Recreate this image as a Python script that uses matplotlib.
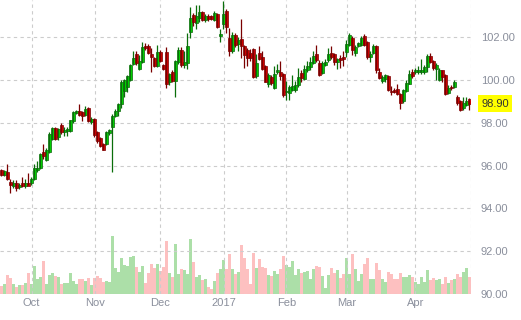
import numpy as np
import matplotlib
matplotlib.use("Agg")
import matplotlib.pyplot as plt

# daily bars, index 0 = first bar on the left
opens = [95.80, 95.55, 95.72, 95.25, 95.03, 95.19, 95.00, 95.19, 95.03, 95.20,
         95.17, 95.37, 95.80, 95.90, 96.65, 96.26, 96.65, 97.24, 97.77, 97.34,
         97.88, 97.55, 97.60, 97.60, 98.07, 98.46, 98.53, 98.50, 98.35, 98.69,
         98.02, 98.19, 97.55, 97.27, 97.02, 97.02, 97.52, 97.80, 98.30, 98.53,
         98.88, 99.51, 99.67, 100.01, 100.76, 101.21, 100.54, 100.87, 101.60, 101.60,
         101.23, 101.03, 100.68, 101.31, 100.71, 101.32, 99.90, 100.37, 99.97, 100.87,
         101.42, 100.71, 100.79, 102.27, 103.05, 102.66, 102.90, 103.18, 102.82, 103.00,
         102.98, 102.82, 103.10, 102.07, 102.63, 103.24, 101.96, 101.34, 102.12, 101.68,
         101.92, 101.60, 101.42, 101.28, 101.45, 100.17, 101.29, 101.07, 100.67, 99.81,
         100.14, 99.63, 100.36, 100.36, 100.29, 99.42, 99.39, 99.55, 99.55, 99.78,
         100.33, 100.06, 100.45, 100.59, 100.79, 101.23, 100.82, 100.33, 100.71, 100.92,
         101.26, 101.23, 100.87, 101.05, 101.10, 101.31, 101.65, 101.96, 101.26, 101.60,
         101.65, 102.07, 101.80, 101.10, 101.26, 101.60, 100.36, 99.98, 100.05, 100.20,
         99.51, 99.55, 99.58, 99.35, 99.00, 99.51, 99.83, 100.36, 100.36, 100.36,
         100.36, 100.36, 100.59, 101.14, 100.90, 100.53, 100.01, 100.45, 100.25, 99.39,
         99.70, 99.70, 99.23, 99.00, 98.69, 98.85, 99.11]
highs = [95.85, 95.80, 96.08, 95.37, 95.30, 95.30, 95.20, 95.45, 95.35, 95.65,
         95.45, 96.09, 96.20, 96.60, 97.02, 96.80, 97.55, 97.80, 97.80, 97.78,
         97.98, 97.80, 97.82, 98.15, 98.55, 98.62, 98.89, 98.57, 98.77, 98.72,
         98.25, 98.22, 97.60, 97.32, 97.05, 97.62, 97.72, 98.40, 98.65, 98.95,
         100.00, 100.06, 100.25, 100.75, 101.34, 101.34, 101.18, 101.78, 101.76, 101.70,
         101.50, 101.10, 101.63, 101.40, 100.75, 101.57, 100.35, 100.45, 100.95, 101.57,
         101.57, 101.34, 102.20, 103.44, 103.13, 103.50, 103.52, 103.25, 103.10, 103.08,
         103.05, 103.25, 103.15, 102.40, 103.70, 103.32, 102.43, 102.25, 102.20, 102.00,
         102.86, 101.65, 101.50, 101.45, 101.50, 101.21, 101.60, 101.37, 100.70, 100.35,
         100.25, 100.64, 100.75, 100.90, 100.35, 99.97, 99.75, 100.25, 99.95, 100.56,
         100.48, 100.71, 100.90, 101.10, 101.34, 101.65, 100.95, 100.90, 101.00, 101.50,
         101.60, 101.29, 101.03, 101.18, 101.34, 101.88, 102.20, 102.07, 101.65, 101.80,
         102.05, 102.15, 101.85, 101.34, 101.70, 101.65, 100.56, 100.25, 100.30, 100.25,
         99.73, 99.65, 99.83, 99.40, 99.60, 100.01, 100.48, 100.51, 100.55, 100.64,
         100.98, 100.70, 101.20, 101.29, 100.95, 100.80, 100.55, 100.48, 100.30, 99.75,
         99.75, 100.01, 99.28, 99.05, 99.20, 99.20, 99.16]
lows = [95.50, 95.50, 95.34, 94.72, 94.95, 94.80, 94.90, 95.00, 94.95, 95.10,
        95.10, 95.30, 95.70, 95.85, 96.30, 96.20, 96.60, 97.20, 97.20, 97.20,
        97.50, 97.40, 97.40, 97.55, 98.00, 98.40, 98.30, 98.07, 98.30, 98.05,
        97.95, 97.35, 97.05, 96.85, 96.71, 96.98, 97.45, 95.68, 98.25, 98.30,
        98.70, 99.23, 99.45, 99.95, 100.70, 100.70, 100.45, 100.80, 101.40, 101.20,
        100.40, 100.60, 100.60, 100.85, 100.45, 99.63, 99.75, 99.90, 99.23, 100.76,
        100.62, 100.56, 100.51, 101.96, 102.55, 102.38, 102.70, 102.75, 102.70, 102.78,
        102.80, 102.75, 102.45, 101.80, 102.40, 102.22, 101.14, 101.25, 101.55, 101.34,
        101.05, 100.56, 100.67, 100.90, 100.10, 100.10, 100.95, 100.45, 99.90, 99.70,
        99.78, 99.58, 100.30, 100.00, 99.20, 99.05, 99.08, 99.50, 99.45, 99.70,
        99.89, 100.00, 100.40, 100.45, 100.75, 100.85, 100.20, 100.30, 100.65, 100.85,
        101.00, 100.71, 100.51, 100.56, 100.64, 101.10, 101.60, 101.18, 101.15, 101.55,
        101.60, 101.60, 101.00, 100.87, 101.20, 100.33, 100.05, 99.85, 99.90, 99.50,
        99.31, 99.40, 99.30, 98.67, 98.95, 99.45, 99.80, 100.10, 100.30, 100.29,
        100.30, 100.30, 100.40, 100.80, 100.45, 100.01, 99.95, 99.93, 99.30, 99.35,
        99.55, 99.65, 98.85, 98.55, 98.60, 98.80, 98.58]
closes = [95.55, 95.75, 95.37, 95.10, 95.17, 94.95, 95.09, 95.03, 95.20, 95.05,
          95.39, 95.90, 95.90, 96.54, 96.43, 96.74, 97.49, 97.77, 97.24, 97.72,
          97.57, 97.68, 97.72, 98.11, 98.52, 98.57, 98.38, 98.30, 98.63, 98.07,
          98.19, 97.41, 97.13, 96.90, 96.74, 97.58, 97.65, 98.33, 98.57, 98.90,
          99.93, 100.01, 100.17, 100.71, 101.03, 100.79, 100.90, 101.56, 101.48, 101.26,
          101.07, 100.65, 101.31, 100.90, 100.53, 99.81, 100.29, 99.97, 100.89, 101.42,
          100.71, 100.87, 101.60, 102.90, 102.74, 103.00, 103.18, 102.83, 103.00, 102.86,
          102.86, 103.13, 102.50, 102.16, 103.10, 102.50, 101.34, 102.12, 101.66, 101.88,
          101.60, 101.18, 101.03, 101.03, 100.14, 100.82, 100.98, 100.51, 99.93, 100.25,
          99.86, 100.29, 100.45, 100.20, 99.28, 99.51, 99.67, 99.72, 99.75, 100.14,
          100.09, 100.53, 100.67, 100.86, 101.14, 100.95, 100.25, 100.82, 100.87, 101.23,
          101.07, 100.87, 100.98, 100.95, 101.00, 101.70, 102.12, 101.42, 101.57, 101.73,
          101.96, 101.65, 101.07, 101.23, 101.60, 100.48, 100.12, 100.14, 100.25, 99.55,
          99.42, 99.45, 99.36, 98.93, 99.55, 99.86, 100.29, 100.17, 100.45, 100.45,
          100.45, 100.61, 101.14, 100.87, 100.56, 100.71, 100.48, 100.14, 99.35, 99.63,
          99.63, 99.92, 98.93, 98.62, 98.93, 99.00, 98.90]
volumes = [7.7, 9.7, 18.7, 15.7, 9.7, 6.7, 8.7, 8.7, 10.7, 20.7,
           9.7, 27.7, 14.7, 16.7, 32.7, 9.7, 18.7, 20.7, 17.7, 16.7,
           9.7, 10.3, 10.3, 21.0, 13.0, 9.7, 14.7, 14.7, 13.0, 15.7,
           8.7, 15.7, 17.7, 15.7, 11.7, 13.0, 12.0, 58.0, 25.3, 21.7,
           36.0, 28.7, 27.7, 36.3, 37.7, 27.0, 22.0, 27.7, 11.0, 20.3,
           29.7, 25.3, 29.7, 23.0, 27.0, 53.0, 20.3, 17.0, 49.7, 19.7,
           25.0, 23.7, 19.7, 55.0, 31.7, 16.3, 18.3, 13.7, 15.0, 7.0,
           5.0, 13.0, 21.0, 25.0, 33.7, 24.3, 39.7, 25.0, 19.7, 22.0,
           48.7, 35.3, 25.0, 9.7, 40.7, 26.0, 35.0, 27.0, 25.7, 18.7,
           17.7, 23.0, 19.7, 25.0, 37.7, 28.3, 27.0, 32.7, 18.5, 25.0,
           21.0, 22.0, 23.0, 15.0, 25.0, 27.7, 26.7, 17.7, 5.7, 18.7,
           25.7, 21.0, 23.7, 15.7, 19.7, 35.7, 19.7, 39.7, 24.7, 12.7,
           19.7, 29.7, 35.7, 14.7, 14.7, 30.7, 23.7, 14.7, 11.7, 21.7,
           19.7, 14.7, 14.7, 20.7, 16.7, 16.7, 18.7, 16.7, 11.7, 9.7,
           16.7, 11.7, 23.7, 13.7, 15.7, 13.7, 14.7, 9.7, 16.7, 10.7,
           13.7, 14.7, 19.7, 16.7, 21.7, 25.7, 16.7]

month_pos = [10.1, 31.1, 53.0, 74.1, 95.0, 115.1, 138.0]
month_labels = ["Oct", "Nov", "Dec", "2017", "Feb", "Mar", "Apr"]
price_ticks = [90, 92, 94, 96, 98, 100, 102]
last_price = 98.90

o = np.array(opens)
h = np.array(highs)
l = np.array(lows)
c = np.array(closes)
v = np.array(volumes)
x = np.arange(len(o))
up = c >= o

plt.rcParams['font.family'] = ['Liberation Sans', 'DejaVu Sans']
fig = plt.figure(figsize=(5.21, 3.2), dpi=100)
pos = [0, 26.3 / 320, 471 / 521, 293.7 / 320]
xlim = (-0.43, 156.57)

# volume panel behind the candles
axv = fig.add_axes(pos)
axv.bar(x, v, width=1.0, color=np.where(up, '#acdfa8', '#fdc0c0'), linewidth=0)
axv.set_xlim(*xlim)
axv.set_ylim(0, 293.7)
axv.axis('off')

ax = fig.add_axes(pos, facecolor='none')
ax.vlines(x[up], l[up], h[up], color='#0a6e0a', linewidth=0.9)
ax.vlines(x[~up], l[~up], h[~up], color='#7a0000', linewidth=0.9)
body = np.maximum(np.abs(c - o), 0.03)
ax.bar(x[up], body[up], bottom=np.minimum(o, c)[up], width=0.86,
       color='#00dd00', edgecolor='#0b600b', linewidth=0.5)
ax.bar(x[~up], body[~up], bottom=np.minimum(o, c)[~up], width=0.86,
       color='#d80000', edgecolor='#780000', linewidth=0.5)

ax.set_xlim(*xlim)
ax.set_ylim(90, 103.75)
ax.set_xticks(month_pos)
ax.set_xticklabels(month_labels)
ax.set_yticks(price_ticks)
ax.set_yticklabels(['%.2f' % t for t in price_ticks])
ax.yaxis.tick_right()
ax.tick_params(axis='both', length=0, labelsize=8, colors='#8a8f9c')
ax.tick_params(axis='y', pad=7)
ax.tick_params(axis='x', pad=3)
for s in ax.spines.values():
    s.set_visible(False)
ax.grid(True, linestyle=(0, (3, 3)), color='#cccccc', linewidth=0.8)
ax.axvline(xlim[1], linestyle=(0, (3, 3)), color='#cccccc', linewidth=0.8)
ax.set_axisbelow(True)

ax.text(1.0 + 10 / 471, last_price, '%.2f' % last_price, transform=ax.get_yaxis_transform(),
        ha='left', va='center', fontsize=8, color='#333333',
        bbox=dict(boxstyle='square,pad=0.3', facecolor='#ffff00', edgecolor='none'))

fig.savefig('out.png', dpi=100)
